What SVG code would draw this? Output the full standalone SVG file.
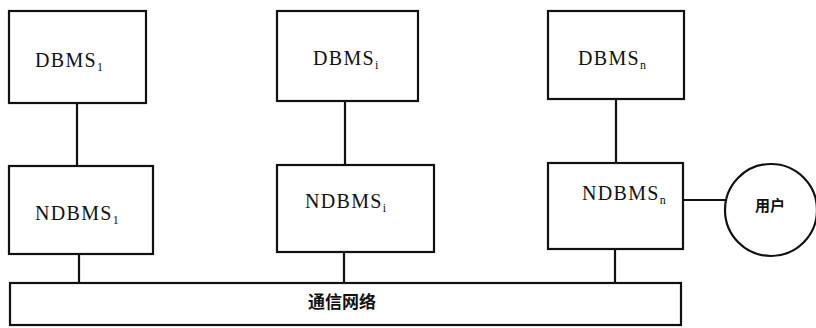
<svg xmlns="http://www.w3.org/2000/svg" width="816" height="328" viewBox="0 0 816 328">
<style>
.box{fill:#fff;stroke:#111;stroke-width:2.2}
.ln{stroke:#111;stroke-width:2.2;fill:none}
.t{font-family:"Liberation Serif",serif;font-size:20px;fill:#111;letter-spacing:1.3px}
.s{font-size:12px}
.c{font-family:"Liberation Sans","Noto Sans CJK SC",sans-serif;font-weight:bold;fill:#111}
</style>
<rect width="816" height="328" fill="#fff"/>
<g id="connectors">
<line class="ln" x1="77" y1="103" x2="77" y2="166"/>
<line class="ln" x1="79" y1="254" x2="79" y2="283"/>
<line class="ln" x1="345" y1="101" x2="345" y2="165"/>
<line class="ln" x1="344" y1="252" x2="344" y2="283"/>
<line class="ln" x1="616" y1="99" x2="616" y2="163"/>
<line class="ln" x1="615" y1="249" x2="615" y2="283"/>
<line class="ln" x1="683" y1="200" x2="726" y2="200"/>
</g>
<g id="dbms1">
<rect class="box" x="9" y="11" width="137" height="92"/>
<text class="t" x="35" y="67">DBMS<tspan class="s" dy="4">1</tspan></text>
</g>
<g id="dbmsi">
<rect class="box" x="277" y="11" width="141" height="90"/>
<text class="t" x="313" y="65">DBMS<tspan class="s" dy="4">i</tspan></text>
</g>
<g id="dbmsn">
<rect class="box" x="548" y="11" width="136" height="88"/>
<text class="t" x="578" y="65">DBMS<tspan class="s" dy="4">n</tspan></text>
</g>
<g id="ndbms1">
<rect class="box" x="9" y="166" width="144" height="88"/>
<text class="t" x="35" y="220">NDBMS<tspan class="s" dy="4">1</tspan></text>
</g>
<g id="ndbmsi">
<rect class="box" x="277" y="165" width="157" height="87"/>
<text class="t" x="305" y="208">NDBMS<tspan class="s" dy="4">i</tspan></text>
</g>
<g id="ndbmsn">
<rect class="box" x="548" y="163" width="135" height="86"/>
<text class="t" x="582" y="200">NDBMS<tspan class="s" dy="4">n</tspan></text>
</g>
<g id="user">
<circle class="box" cx="771" cy="210" r="46"/>
<text class="c" x="770" y="205" font-size="15" text-anchor="middle" dominant-baseline="central">用户</text>
</g>
<g id="network">
<rect class="box" x="10" y="283" width="671" height="42"/>
<text class="c" x="342" y="302" font-size="17" text-anchor="middle" dominant-baseline="central">通信网络</text>
</g>
</svg>
